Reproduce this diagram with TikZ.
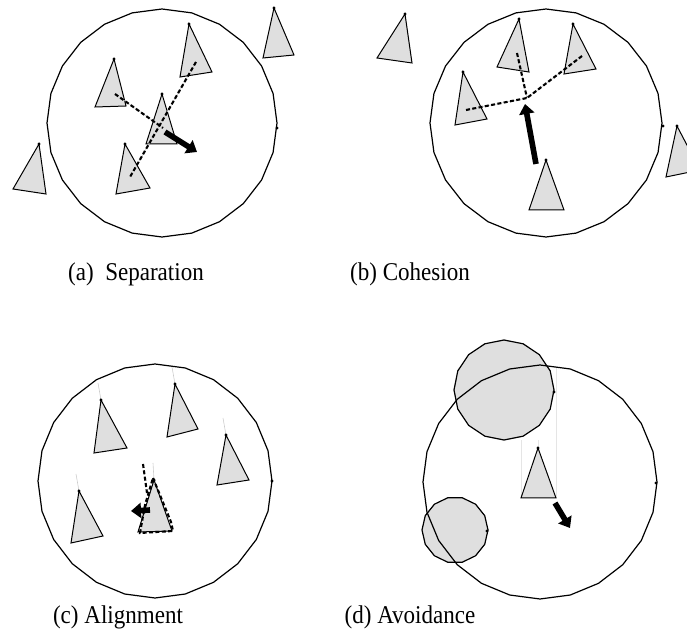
\documentclass[tikz,border=0pt]{standalone}
\usepackage{fontspec}
\setmainfont{Liberation Serif}
\usetikzlibrary{arrows.meta, positioning, calc}

\begin{document}
\begin{tikzpicture}[x=0.5pt, y=-0.5pt,
    boid/.style={draw=black, fill=gray!25, line width=0.5pt},
    sensing/.style={draw=black, line width=0.6pt},
    obstacle/.style={draw=black, fill=gray!25, line width=0.6pt},
    link/.style={black, line width=1.05pt, dash pattern=on 2pt off 1.2pt},
    faint/.style={gray!40, line width=0.3pt},
    steer/.style={black, line width=2.8pt, -{Triangle[length=5pt, width=7.5pt]}},
    caption/.style={font=\fontsize{12.8}{15}\selectfont, inner sep=0pt}]
    \useasboundingbox (0,0) rectangle (687,641);

    % ===== (a) SEPARATION =====
    \draw[sensing] plot[samples=25, domain=0:360] ({162+115*cos(\x)}, {123+114*sin(\x)}) -- cycle;
    \fill (277,128) circle (0.8pt);

    \filldraw[boid] (274,8) -- (263,58) -- (294,55) -- cycle;
    \filldraw[boid] (189,24) -- (180,77) -- (212,72) -- cycle;
    \filldraw[boid] (114,59) -- (95,107) -- (126,106) -- cycle;
    \filldraw[boid] (162,94) -- (146,144) -- (177,144) -- cycle;
    \filldraw[boid] (125,144) -- (116,194) -- (150,188) -- cycle;
    \filldraw[boid] (39,144) -- (13,189) -- (46,194) -- cycle;
    \foreach \p in {(274,8), (189,24), (114,59), (162,94), (125,144), (39,144)}
        \fill \p circle (0.8pt);

    % neighbours and centre
    \coordinate (aC) at (163,128);
    \coordinate (aN1) at (115,94);
    \coordinate (aN2) at (196,62);
    \coordinate (aN3) at (130,177);
    \draw[faint] (aN1) -- (aC);
    \draw[faint] (aN2) -- (aN3);
    \draw[link] (aN1) -- (aC);
    \draw[link] (aN2) -- (aN3);
    \draw[steer] (165,132) -- (197,152);

    \node[caption] (capA) at (136,274) {\scalebox{0.9}[1]{(a)~~Separation}};

    % ===== (b) COHESION =====
    \draw[sensing] plot[samples=25, domain=0:360] ({546+116*cos(\x)}, {123+114*sin(\x)}) -- cycle;
    \fill (663,126) circle (0.8pt);

    \filldraw[boid] (405,14) -- (377,58) -- (412,63) -- cycle;
    \filldraw[boid] (519,19) -- (497,67) -- (529,72) -- cycle;
    \filldraw[boid] (573,24) -- (564,74) -- (596,69) -- cycle;
    \filldraw[boid] (463,72) -- (455,125) -- (487,119) -- cycle;
    \filldraw[boid] (546,160) -- (529,210) -- (564,210) -- cycle;
    \begin{scope}
        \clip (0,0) rectangle (687,641);
        \filldraw[boid] (677,126) -- (666,177) -- (700,170) -- cycle;
    \end{scope}
    \foreach \p in {(405,14), (519,19), (573,24), (463,72), (546,160), (677,126)}
        \fill \p circle (0.8pt);

    \coordinate (bC) at (527,98);
    \coordinate (bN1) at (466,110);
    \coordinate (bN2) at (517,53);
    \coordinate (bN3) at (582,56);
    \foreach \n in {bN1, bN2, bN3} {
        \draw[faint] (\n) -- (bC);
        \draw[link] (\n) -- (bC);
    }
    \draw[steer] (536,164) -- (525,104);

    \node[caption] (capB) at (410,274) {\scalebox{0.9}[1]{(b) Cohesion}};

    % ===== (c) ALIGNMENT =====
    \draw[sensing] plot[samples=25, domain=0:360] ({155+117*cos(\x)}, {481+117*sin(\x)}) -- cycle;
    \fill (272,481) circle (0.8pt);

    % heading lines
    \draw[faint] (101,400) -- (98,383);
    \draw[faint] (175,384) -- (172,367);
    \draw[faint] (226,435) -- (223,418);
    \draw[faint] (79,491) -- (76,474);
    \draw[faint] (154,480) -- (153,463);

    \filldraw[boid] (101,400) -- (94,453) -- (127,448) -- cycle;
    \filldraw[boid] (175,384) -- (167,437) -- (198,429) -- cycle;
    \filldraw[boid] (226,435) -- (217,485) -- (249,480) -- cycle;
    \filldraw[boid] (79,491) -- (71,543) -- (103,536) -- cycle;
    \filldraw[boid] (154,480) -- (138,532) -- (172,531) -- cycle;
    \foreach \p in {(101,400), (175,384), (226,435), (79,491), (154,480)}
        \fill \p circle (0.8pt);

    % averaged heading
    \coordinate (cTop) at (143,464);
    \coordinate (cMid) at (147,493);
    \draw[link] (cTop) -- (cMid);
    \draw[link] (153,478) -- (171,522) -- (173,531) -- (140,533) -- (145,505) -- (153,478);
    \draw[steer] (150,510) -- (131,511);

    \node[caption] (capC) at (118,617) {\scalebox{0.9}[1]{(c) Alignment}};

    % ===== (d) AVOIDANCE =====
    \filldraw[obstacle] plot[samples=17, domain=0:360] ({504+50*cos(\x)}, {390+50*sin(\x)}) -- cycle;
    \filldraw[obstacle] plot[samples=15, domain=0:360] ({455+33*cos(\x)}, {530+33*sin(\x)}) -- cycle;
    \fill (554,392) circle (0.8pt);
    \fill (487,531) circle (0.8pt);

    \draw[sensing] plot[samples=25, domain=0:360] ({540+117*cos(\x)}, {482+117*sin(\x)}) -- cycle;
    \fill (656,483) circle (0.8pt);

    % probe lines
    \draw[faint, gray!20] (521,440) -- (521,498);
    \draw[faint, gray!20] (556,368) -- (556,498);
    \draw[faint, gray!20] (538,440) -- (538,448);

    \filldraw[boid] (538,448) -- (521,498) -- (556,498) -- cycle;
    \fill (538,448) circle (0.8pt);
    \draw[steer] (555,503) -- (570,528);

    \node[caption] (capD) at (410,617) {\scalebox{0.9}[1]{(d) Avoidance}};
\end{tikzpicture}
\end{document}
